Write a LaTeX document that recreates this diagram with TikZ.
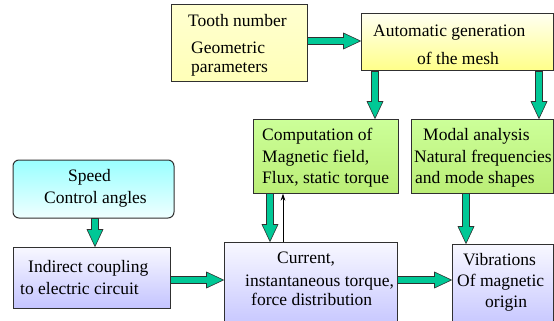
\documentclass[tikz,border=0pt]{standalone}
\usepackage{fontspec}
\setmainfont{Liberation Serif}
\usetikzlibrary{calc,arrows.meta}
\definecolor{arrg}{HTML}{00C896}
\definecolor{boxline}{HTML}{303030}
\definecolor{ytop}{HTML}{FFFFD0}
\definecolor{ymid}{HTML}{FFFF88}
\definecolor{ybot}{HTML}{FFFFB8}
\definecolor{atop}{HTML}{FFFFF0}
\definecolor{abot}{HTML}{FFFF88}
\definecolor{gtop}{HTML}{CCFF99}
\definecolor{gmid}{HTML}{EEFFDD}
\definecolor{gbot}{HTML}{BBEE77}
\definecolor{ctop}{HTML}{99FFFF}
\definecolor{cbot}{HTML}{F0FFFF}
\definecolor{ltop}{HTML}{F8F8FF}
\definecolor{lbot}{HTML}{C4C4FF}
\tikzset{
  box/.style={draw=boxline, line width=1pt, rectangle, inner sep=0pt},
  ybox/.style={box, top color=ytop, middle color=ymid, bottom color=ybot},
  abox/.style={box, top color=atop, bottom color=abot},
  gbox/.style={box, top color=gtop, middle color=gmid, bottom color=gbot},
  cbox/.style={box, rounded corners=6pt, top color=ctop, bottom color=cbot},
  lbox/.style={box, top color=ltop, bottom color=lbot},
  txt/.style={inner sep=0pt, anchor=base west, font=\fontsize{17.5pt}{21pt}\selectfont},
  blk/.style={draw=boxline, line width=0.6pt, fill=arrg, line join=miter,
    to path={let \p1=(\tikztostart), \p2=(\tikztotarget),
      \n1={atan2(\y2-\y1,\x2-\x1)}, \n2={veclen(\x2-\x1,\y2-\y1)} in
      {[shift={(\p1)}, rotate=\n1]
        (0pt,-3.5pt) -- ({(\n2-17)*1pt},-3.5pt) -- ({(\n2-17)*1pt},-8pt)
        -- ({\n2*1pt},0pt) -- ({(\n2-17)*1pt},8pt) -- ({(\n2-17)*1pt},3.5pt)
        -- (0pt,3.5pt) -- cycle}}},
  thin/.style={line width=0.8pt, -{Stealth[length=7pt,width=4.5pt]}}
}
\begin{document}
\begin{tikzpicture}[x=1pt,y=-1pt]
\useasboundingbox (0,0) rectangle (554,321);
% boxes
\node[ybox, minimum width=136pt, minimum height=76pt] (tooth) at (239,43) {};
\node[abox, minimum width=192pt, minimum height=57pt] (auto) at (457,42.5) {};
\node[gbox, minimum width=145pt, minimum height=74pt] (comp) at (325.5,156) {};
\node[gbox, minimum width=142pt, minimum height=74pt] (modal) at (482,156) {};
\node[cbox, minimum width=161pt, minimum height=58pt] (speed) at (93.5,189) {};
\node[lbox, minimum width=157pt, minimum height=61pt] (indirect) at (91.5,277.5) {};
\node[lbox, minimum width=173pt, minimum height=88pt] (current) at (310.5,286) {};
\node[lbox, minimum width=101pt, minimum height=86pt] (vib) at (502.5,287) {};
% texts
\node[txt] (t1) at (188,27) {Tooth number};
\node[txt] (t2) at (191,53) {Geometric};
\node[txt] (t3) at (191,72) {parameters};
\node[txt] (t4) at (373,37) {Automatic generation};
\node[txt] (t5) at (417,64) {of the mesh};
\node[txt] (t6) at (262,140) {Computation of};
\node[txt] (t7) at (262,162) {Magnetic field,};
\node[txt] (t8) at (262,183) {Flux, static torque};
\node[txt] (t9) at (423,140) {Modal analysis};
\node[txt] (t10) at (414,162) {Natural frequencies};
\node[txt] (t11) at (415,183) {and mode shapes};
\node[txt] (t12) at (68,181) {Speed};
\node[txt] (t13) at (44,203) {Control angles};
\node[txt] (t14) at (28,272) {Indirect coupling};
\node[txt] (t15) at (20,294) {to electric circuit};
\node[txt] (t16) at (277,263) {Current,};
\node[txt] (t17) at (245,286) {instantaneous torque,};
\node[txt] (t18) at (251,305) {force distribution};
\node[txt] (t19) at (463,265) {Vibrations};
\node[txt] (t20) at (457,286) {Of magnetic};
\node[txt] (t21) at (485,307) {origin};
% connectors
\draw[blk] (tooth.east |- 0,41) to (auto.west |- 0,41);
\draw[blk] (375,0 |- auto.south) to (375,0 |- comp.north);
\draw[blk] (539,0 |- auto.south) to (539,0 |- modal.north);
\draw[blk] (270,0 |- comp.south) to (270,0 |- current.north);
\draw[thin] (283,0 |- current.north) -- (283,0 |- comp.south);
\draw[blk] (466,0 |- modal.south) to (466,0 |- vib.north);
\draw[blk] (95,0 |- speed.south) to (95,0 |- indirect.north);
\draw[blk] (indirect.east |- 0,280) to (current.west |- 0,280);
\draw[blk] (current.east |- 0,280) to (vib.west |- 0,280);
\end{tikzpicture}
\end{document}
